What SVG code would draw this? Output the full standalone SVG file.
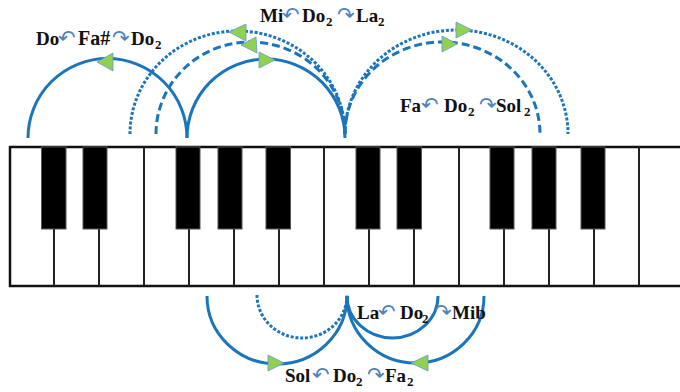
<svg xmlns="http://www.w3.org/2000/svg" width="680" height="392" viewBox="0 0 680 392">
<style>
.wk{fill:#fff;stroke:#111;stroke-width:2.5}
.div{stroke:#222;stroke-width:2}
.bk{fill:#000;stroke:#555;stroke-width:1}
.arc{fill:none;stroke:#1b75bc;stroke-width:3}
.dash{stroke-dasharray:8 4}
.dot{stroke-dasharray:3 1.8}
.tri{fill:#92d050;stroke:#5b9bd5;stroke-width:0.8}
.lbl{font-family:"Liberation Serif","DejaVu Serif",serif;font-weight:bold;font-size:19px;fill:#111}
.ar{font-family:"DejaVu Sans",sans-serif;font-weight:normal;font-size:21px;fill:#4f81bd}
.sub{font-size:13px}
</style>
<rect width="680" height="392" fill="#fff"/>
<g id="keyboard">
<rect class="wk" x="10" y="147" width="680" height="139"/>
<g class="div">
<line x1="144" y1="147" x2="144" y2="286"/>
<line x1="324" y1="147" x2="324" y2="286"/>
<line x1="459" y1="147" x2="459" y2="286"/>
<line x1="639" y1="147" x2="639" y2="286"/>
<line x1="54" y1="229" x2="54" y2="286"/>
<line x1="99" y1="229" x2="99" y2="286"/>
<line x1="189" y1="229" x2="189" y2="286"/>
<line x1="234" y1="229" x2="234" y2="286"/>
<line x1="279" y1="229" x2="279" y2="286"/>
<line x1="369" y1="229" x2="369" y2="286"/>
<line x1="414" y1="229" x2="414" y2="286"/>
<line x1="504" y1="229" x2="504" y2="286"/>
<line x1="549" y1="229" x2="549" y2="286"/>
<line x1="594" y1="229" x2="594" y2="286"/>
</g>
<g class="bk">
<rect x="41.5" y="147" width="24.5" height="82"/>
<rect x="83" y="147" width="24" height="82"/>
<rect x="176" y="147" width="24" height="82"/>
<rect x="218" y="147" width="24" height="82"/>
<rect x="266" y="147" width="24.5" height="82"/>
<rect x="356" y="147" width="24" height="82"/>
<rect x="397" y="147" width="24.5" height="82"/>
<rect x="490" y="147" width="24" height="82"/>
<rect x="532" y="147" width="24" height="82"/>
<rect x="581" y="147" width="24" height="82"/>
</g>
</g>
<g id="connectors">
<path class="arc" d="M28,138 A79.5,79.5 0 0 1 187,138"/>
<path class="arc" d="M187,138 A79,79 0 0 1 345,138"/>
<path class="arc dash" d="M156,134 A94.5,92 0 0 1 345,134"/>
<path class="arc dot" d="M130,134 A107.5,103 0 0 1 345,134"/>
<path class="arc dash" d="M345,134 A97.5,92 0 0 1 540,134"/>
<path class="arc dot" d="M345,134 A111.5,104 0 0 1 568,134"/>
<path class="arc" d="M207,296 A70,68 0 0 0 347,296"/>
<path class="arc dot" d="M257,295 A45,43 0 0 0 347,295"/>
<path class="arc" d="M347,296 A45.5,42 0 0 0 438,296"/>
<path class="arc" d="M347,296 A68.5,67 0 0 0 484,296"/>
<polygon class="tri" points="97,62 113,53 113,71"/>
<polygon class="tri" points="259,52 259,68 275,60"/>
<polygon class="tri" points="229,32 246,24 246,41"/>
<polygon class="tri" points="241,45 256,37 257,53"/>
<polygon class="tri" points="456,22 456,38 472,30"/>
<polygon class="tri" points="442,36 442,52 457,44"/>
<polygon class="tri" points="268,355 268,371 284,363"/>
<polygon class="tri" points="428,355 428,371 411,363"/>
</g>
<g id="label-do-fa">
<text class="lbl"><tspan x="36" y="45">Do</tspan><tspan class="ar" x="58" y="45">↶</tspan><tspan x="78" y="45" font-size="20">Fa#</tspan><tspan class="ar" x="112" y="45">↷</tspan><tspan x="131" y="45">Do</tspan><tspan class="sub" x="155" y="49">2</tspan></text>
</g>
<g id="label-mi-la">
<text class="lbl"><tspan x="260" y="22">Mi</tspan><tspan class="ar" x="282" y="22">↶</tspan><tspan x="302" y="22">Do</tspan><tspan class="sub" x="326" y="26">2</tspan><tspan class="ar" x="337" y="22">↷</tspan><tspan x="356" y="22">La</tspan><tspan class="sub" x="378" y="26">2</tspan></text>
</g>
<g id="label-fa-sol">
<text class="lbl"><tspan x="400" y="112">Fa</tspan><tspan class="ar" x="421" y="112">↶</tspan><tspan x="444" y="112">Do</tspan><tspan class="sub" x="468" y="116">2</tspan><tspan class="ar" x="479" y="112">↷</tspan><tspan x="496" y="112">Sol</tspan><tspan class="sub" x="524" y="116">2</tspan></text>
</g>
<g id="label-la-mib">
<text class="lbl"><tspan x="357" y="319">La</tspan><tspan class="ar" x="378" y="319">↶</tspan><tspan x="400" y="319">Do</tspan><tspan class="sub" x="422" y="323">2</tspan><tspan class="ar" x="434" y="319">↷</tspan><tspan x="452" y="319">Mib</tspan></text>
</g>
<g id="label-sol-fa">
<text class="lbl"><tspan x="285" y="382">Sol</tspan><tspan class="ar" x="312" y="382">↶</tspan><tspan x="333" y="382">Do</tspan><tspan class="sub" x="356" y="386">2</tspan><tspan class="ar" x="367" y="382">↷</tspan><tspan x="385" y="382">Fa</tspan><tspan class="sub" x="407" y="386">2</tspan></text>
</g>
</svg>
